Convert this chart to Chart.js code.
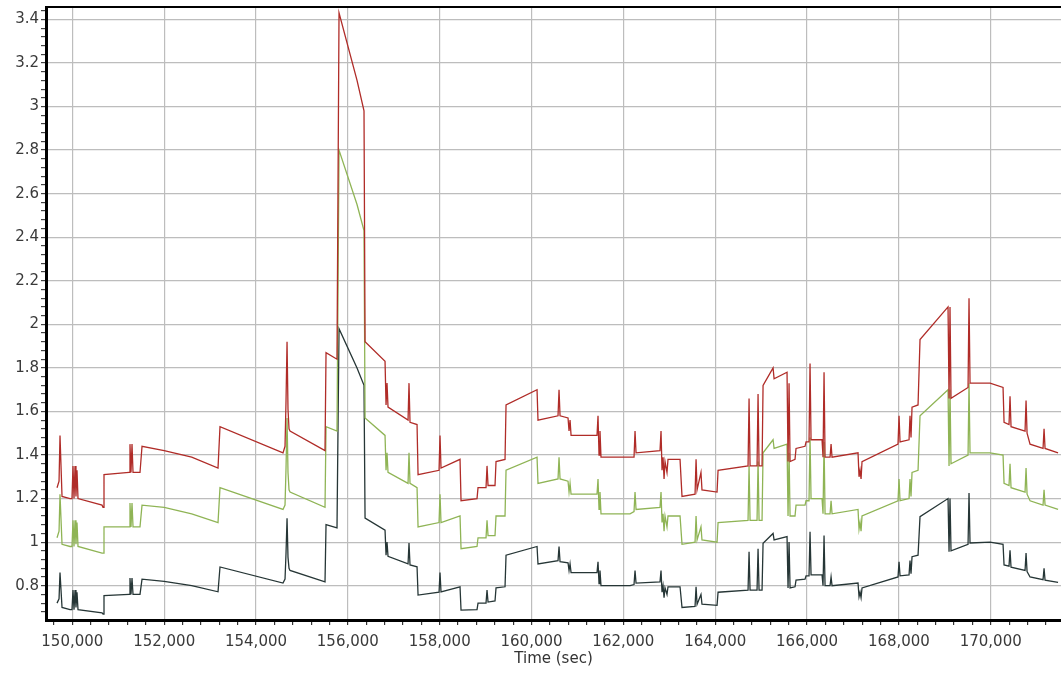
<!DOCTYPE html>
<html>
<head>
<meta charset="utf-8">
<script src="https://cdn.jsdelivr.net/npm/chart.js@4"></script>
<style>
    body { margin: 0; background: #fff; }
    #wrap { width: 1061px; height: 673px; position: relative; }
</style>
</head>
<body>
<div id="wrap"><canvas id="myChart"></canvas></div>
<script>
// time (sec) of each sample
const times = [
    149667,149711,149732,149776,149950,149993,150015,150037,150059,150080,
    150102,150124,150647,150669,150690,151235,151256,151278,151300,151322,
    151474,151518,152000,152600,153173,153216,154588,154632,154654,154676,
    154697,154719,154741,155503,155525,155764,155808,156200,156352,156375,
    156810,156832,156853,156875,157311,157332,157354,157507,157529,157986,
    158007,158029,158443,158465,158813,158835,159009,159031,159053,159205,
    159227,159423,159445,160120,160141,160577,160599,160621,160795,160817,
    160839,160861,161426,161448,161470,161491,161513,162145,162232,162254,
    162276,162798,162820,162842,162864,162886,162907,162950,162972,163234,
    163277,163561,163583,163605,163690,163712,164040,164062,164715,164737,
    164759,164911,164933,164955,165020,165042,165260,165282,165564,165586,
    165608,165630,165738,165760,165956,165978,166043,166065,166087,166326,
    166348,166370,166392,166501,166523,166544,167110,167132,167154,167176,
    167197,167981,168003,168025,168221,168242,168264,168286,168417,168460,
    169070,169092,169113,169135,169506,169527,169549,169985,170268,170290,
    170398,170420,170442,170747,170769,170791,170856,171139,171161,171183,
    171466
];

// top series (red)
const redVals = [
    1.25,1.28,1.49,1.21,1.20,1.20,1.35,1.20,1.35,1.21,
    1.33,1.20,1.17,1.16,1.31,1.32,1.45,1.32,1.45,1.32,
    1.32,1.44,1.42,1.39,1.34,1.53,1.41,1.44,1.65,1.92,
    1.61,1.52,1.51,1.42,1.87,1.84,3.43,3.12,2.98,1.92,
    1.83,1.63,1.73,1.62,1.56,1.73,1.55,1.54,1.31,1.33,
    1.49,1.34,1.38,1.19,1.20,1.25,1.25,1.35,1.26,1.26,
    1.37,1.38,1.63,1.70,1.56,1.58,1.70,1.58,1.57,1.51,
    1.56,1.49,1.49,1.58,1.40,1.51,1.39,1.39,1.39,1.51,
    1.41,1.42,1.51,1.33,1.39,1.29,1.37,1.32,1.38,1.38,
    1.21,1.22,1.38,1.24,1.32,1.24,1.23,1.33,1.35,1.66,
    1.35,1.35,1.68,1.35,1.35,1.72,1.80,1.75,1.78,1.37,
    1.73,1.37,1.38,1.43,1.44,1.46,1.46,1.82,1.47,1.47,
    1.39,1.78,1.39,1.39,1.45,1.39,1.41,1.30,1.33,1.29,
    1.37,1.45,1.58,1.46,1.47,1.58,1.48,1.62,1.63,1.93,
    2.08,1.66,2.08,1.66,1.71,2.12,1.73,1.73,1.71,1.55,
    1.54,1.67,1.53,1.51,1.65,1.50,1.45,1.43,1.52,1.43,
    1.41
];

// middle series (green)
const greenVals = [
    1.02,1.05,1.22,0.99,0.98,0.98,1.10,0.98,1.10,0.99,
    1.09,0.98,0.95,0.95,1.07,1.07,1.18,1.07,1.18,1.07,
    1.07,1.17,1.16,1.13,1.09,1.25,1.15,1.17,1.34,1.57,
    1.32,1.24,1.23,1.16,1.53,1.51,2.80,2.55,2.43,1.57,
    1.49,1.33,1.41,1.32,1.27,1.41,1.27,1.25,1.07,1.09,
    1.22,1.09,1.12,0.97,0.98,1.02,1.02,1.10,1.03,1.03,
    1.12,1.12,1.33,1.39,1.27,1.29,1.39,1.29,1.28,1.23,
    1.27,1.22,1.22,1.29,1.15,1.23,1.13,1.13,1.14,1.23,
    1.15,1.16,1.23,1.09,1.13,1.05,1.12,1.07,1.12,1.12,
    0.99,1.00,1.12,1.01,1.07,1.01,1.00,1.09,1.10,1.35,
    1.10,1.10,1.37,1.10,1.10,1.41,1.47,1.43,1.45,1.12,
    1.41,1.12,1.12,1.17,1.17,1.19,1.19,1.48,1.20,1.20,
    1.13,1.46,1.13,1.13,1.19,1.13,1.15,1.06,1.09,1.05,
    1.12,1.19,1.29,1.19,1.20,1.29,1.21,1.32,1.33,1.58,
    1.70,1.35,1.70,1.36,1.40,1.73,1.41,1.41,1.40,1.27,
    1.26,1.36,1.25,1.23,1.34,1.22,1.19,1.17,1.24,1.17,
    1.15
];

// bottom series (dark)
const darkVals = [
    0.72,0.74,0.86,0.70,0.69,0.69,0.78,0.69,0.78,0.70,
    0.77,0.69,0.675,0.67,0.755,0.76,0.835,0.76,0.835,0.76,
    0.76,0.83,0.82,0.80,0.772,0.886,0.812,0.83,0.95,1.11,
    0.93,0.88,0.87,0.818,1.08,1.065,1.98,1.80,1.72,1.11,
    1.055,0.94,1.0,0.935,0.90,0.996,0.895,0.887,0.757,0.77,
    0.86,0.772,0.795,0.688,0.69,0.72,0.72,0.78,0.725,0.73,
    0.79,0.795,0.94,0.98,0.90,0.915,0.98,0.91,0.905,0.87,
    0.90,0.86,0.86,0.91,0.81,0.87,0.80,0.80,0.805,0.87,
    0.812,0.818,0.87,0.77,0.80,0.745,0.79,0.76,0.795,0.795,
    0.70,0.705,0.795,0.715,0.76,0.715,0.71,0.77,0.78,0.956,
    0.78,0.78,0.97,0.78,0.78,0.995,1.04,1.01,1.025,0.79,
    1.0,0.79,0.795,0.826,0.83,0.845,0.845,1.048,0.85,0.85,
    0.80,1.03,0.80,0.80,0.84,0.80,0.812,0.75,0.77,0.745,
    0.79,0.84,0.91,0.845,0.85,0.915,0.855,0.933,0.94,1.117,
    1.20,0.956,1.20,0.96,0.99,1.225,0.996,1.0,0.99,0.895,
    0.89,0.963,0.885,0.87,0.95,0.865,0.84,0.828,0.88,0.825,
    0.815
];

// labelled ticks
const xTickLabels = [150000,152000,154000,156000,158000,160000,162000,164000,166000,168000,170000];
const yTickLabels = [0.8,1,1.2,1.4,1.6,1.8,2,2.2,2.4,2.6,2.8,3,3.2,3.4];

function isLabelled(list, v) {
    return list.some(function(t) { return Math.abs(t - v) < 1e-6; });
}

function toPoints(vals) {
    return times.map(function(t, i) { return { x: t, y: vals[i] }; });
}

// top frame line
const topBorder = {
    id: 'topBorder',
    afterDraw: function(chart) {
        let a = chart.chartArea;
        let ctx = chart.ctx;
        ctx.save();
        ctx.strokeStyle = '#000';
        ctx.lineWidth = 2;
        ctx.beginPath();
        ctx.moveTo(a.left, a.top);
        ctx.lineTo(a.right, a.top);
        ctx.stroke();
        ctx.restore();
    }
};

let lineStyle = { borderWidth: 1.3, pointRadius: 0, tension: 0, fill: false };

new Chart(document.getElementById('myChart'), {
    type: 'line',
    data: {
        datasets: [
            Object.assign({ label: 'red', data: toPoints(redVals), borderColor: '#b02c28' }, lineStyle),
            Object.assign({ label: 'green', data: toPoints(greenVals), borderColor: '#8fb455' }, lineStyle),
            Object.assign({ label: 'dark', data: toPoints(darkVals), borderColor: '#263636' }, lineStyle)
        ]
    },
    options: {
        responsive: true,
        maintainAspectRatio: false,
        animation: false,
        layout: { padding: { top: 7, right: 0, left: 0, bottom: 0 } },
        plugins: { legend: { display: false }, tooltip: { enabled: false } },
        scales: {
            x: {
                type: 'linear',
                min: 149427,
                max: 171530,
                afterBuildTicks: function(scale) {
                    let ticks = [];
                    for (let v = 149600; v <= 171200; v += 400) ticks.push({ value: v });
                    scale.ticks = ticks;
                },
                afterFit: function(scale) {
                    scale.height = 53;
                    scale.paddingLeft = 0;
                    scale.paddingRight = 0;
                },
                border: { display: true, color: '#000', width: 3 },
                grid: {
                    color: function(c) { return c.tick && isLabelled(xTickLabels, c.tick.value) ? '#bdbdbd' : 'rgba(0,0,0,0)'; },
                    lineWidth: 1.2,
                    tickColor: '#333',
                    tickLength: 5
                },
                ticks: {
                    autoSkip: false,
                    maxRotation: 0,
                    padding: 8,
                    color: '#3a3a3a',
                    font: { family: 'DejaVu Sans', size: 15 },
                    callback: function(v) { return isLabelled(xTickLabels, v) ? v.toLocaleString('en-US') : ''; }
                },
                title: {
                    display: true,
                    text: 'Time (sec)',
                    color: '#333',
                    font: { family: 'DejaVu Sans', size: 15 },
                    padding: { top: 0, bottom: 5 }
                }
            },
            y: {
                min: 0.6425,
                max: 3.457,
                afterBuildTicks: function(scale) {
                    let ticks = [];
                    for (let i = 17; i <= 86; i++) ticks.push({ value: Math.round(i * 4) / 100 });
                    scale.ticks = ticks;
                },
                afterFit: function(scale) {
                    scale.width = 46;
                    scale.paddingTop = 0;
                    scale.paddingBottom = 0;
                },
                border: { display: true, color: '#000', width: 3 },
                grid: {
                    color: function(c) { return c.tick && isLabelled(yTickLabels, c.tick.value) ? '#bdbdbd' : 'rgba(0,0,0,0)'; },
                    lineWidth: 1.2,
                    tickColor: '#444',
                    tickLength: 5
                },
                ticks: {
                    autoSkip: false,
                    padding: 2,
                    color: '#3a3a3a',
                    font: { family: 'DejaVu Sans', size: 15 },
                    callback: function(v) { return isLabelled(yTickLabels, v) ? String(v) : ''; }
                }
            }
        }
    },
    plugins: [topBorder]
});
</script>
</body>
</html>
